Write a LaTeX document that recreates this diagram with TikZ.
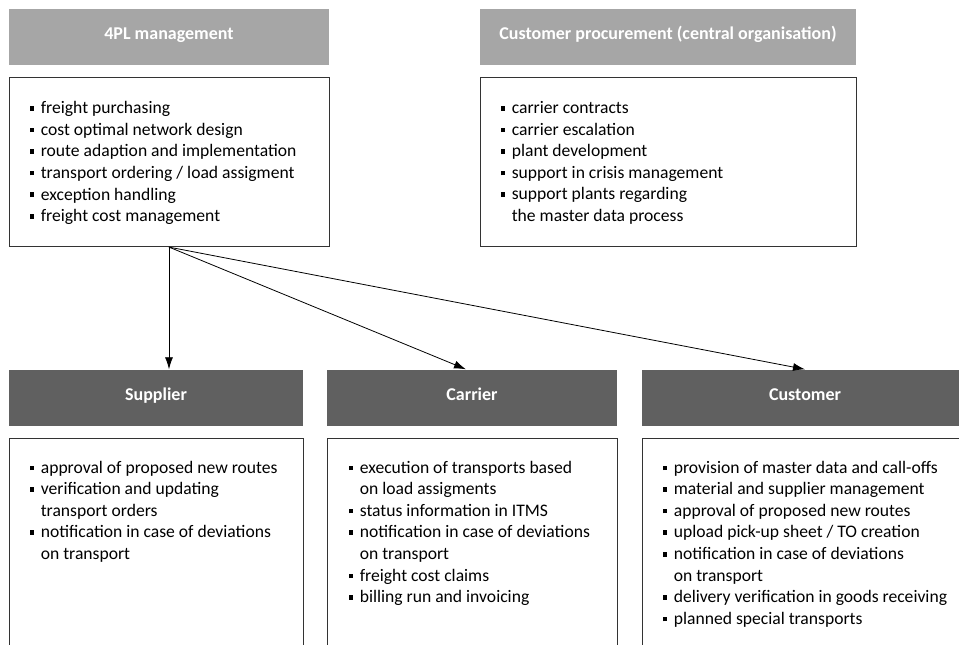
\documentclass[tikz,border=0pt]{standalone}
\usepackage{fontspec}
\setmainfont{Carlito}
\usetikzlibrary{positioning,arrows.meta}
\definecolor{headlight}{HTML}{A6A6A6}
\definecolor{headdark}{HTML}{606060}
\definecolor{boxline}{HTML}{333333}
\newcommand{\sqbul}{\makebox[0.63em][l]{\rule[0.17em]{0.26em}{0.26em}}}
\newcommand{\indnt}{\hspace*{0.63em}}
\tikzset{
  head/.style={text=white, inner sep=0pt, minimum height=56pt,
    text height=0.7em, text depth=0.2em,
    font=\bfseries\fontsize{18}{21}\selectfont},
  lighthead/.style={head, fill=headlight},
  darkhead/.style={head, fill=headdark},
  taskbox/.style={draw=boxline, line width=0.9pt, fill=white, inner sep=0pt},
  tasks/.style={align=left, inner sep=0pt, anchor=north west,
    font=\fontsize{17.6}{21.6}\selectfont},
  flow/.style={-{Latex[length=12pt,width=8pt]}, line width=0.8pt}
}
\begin{document}
\begin{tikzpicture}[x=1pt,y=-1pt]
    \clip (0,0) rectangle (959,645);
    \fill[white] (0,0) rectangle (959,645);
    % upper row
    \node[lighthead, minimum width=320pt] (plhead) at (169,37) {4PL management};
    \node[taskbox, minimum width=320pt, minimum height=169pt, below=12pt of plhead] (pl) {};
    \node[tasks] (pltext) at ([shift={(21pt,-24pt)}]pl.north west)
        {\sqbul freight purchasing\\
         \sqbul cost optimal network design\\
         \sqbul route adaption and implementation\\
         \sqbul transport ordering / load assigment\\
         \sqbul exception handling\\
         \sqbul freight cost management};
    \node[lighthead, minimum width=376pt] (cphead) at (668,37) {Customer procurement (central organisation)};
    \node[taskbox, minimum width=376pt, minimum height=169pt, below=12pt of cphead] (cp) {};
    \node[tasks] (cptext) at ([shift={(21pt,-24pt)}]cp.north west)
        {\sqbul carrier contracts\\
         \sqbul carrier escalation\\
         \sqbul plant development\\
         \sqbul support in crisis management\\
         \sqbul support plants regarding\\
         \indnt the master data process};
    % lower row
    \node[darkhead, minimum width=294pt] (suphead) at (156,397.5) {Supplier};
    \node[taskbox, minimum width=294pt, minimum height=230pt, below=12pt of suphead] (sup) {};
    \node[tasks] (suptext) at ([shift={(21pt,-23pt)}]sup.north west)
        {\sqbul approval of proposed new routes\\
         \sqbul verification and updating\\
         \indnt transport orders\\
         \sqbul notification in case of deviations\\
         \indnt on transport};
    \node[darkhead, minimum width=290pt] (carhead) at (472,397.5) {Carrier};
    \node[taskbox, minimum width=290pt, minimum height=230pt, below=12pt of carhead] (car) {};
    \node[tasks] (cartext) at ([shift={(22pt,-23pt)}]car.north west)
        {\sqbul execution of transports based\\
         \indnt on load assigments\\
         \sqbul status information in ITMS\\
         \sqbul notification in case of deviations\\
         \indnt on transport\\
         \sqbul freight cost claims\\
         \sqbul billing run and invoicing};
    \node[darkhead, minimum width=326pt] (cushead) at (805,397.5) {Customer};
    \node[taskbox, minimum width=326pt, minimum height=230pt, below=12pt of cushead] (cus) {};
    \node[tasks] (custext) at ([shift={(21pt,-23pt)}]cus.north west)
        {\sqbul provision of master data and call-offs\\
         \sqbul material and supplier management\\
         \sqbul approval of proposed new routes\\
         \sqbul upload pick-up sheet / TO creation\\
         \sqbul notification in case of deviations\\
         \indnt on transport\\
         \sqbul delivery verification in goods receiving\\
         \sqbul planned special transports};
    % arrows from 4PL management
    \draw[flow] (pl.south) -- (pl.south |- suphead.north);
    \draw[flow] (pl.south) -- ([xshift=-6pt]carhead.north);
    \draw[flow] (pl.south) -- (cushead.north);
\end{tikzpicture}
\end{document}
